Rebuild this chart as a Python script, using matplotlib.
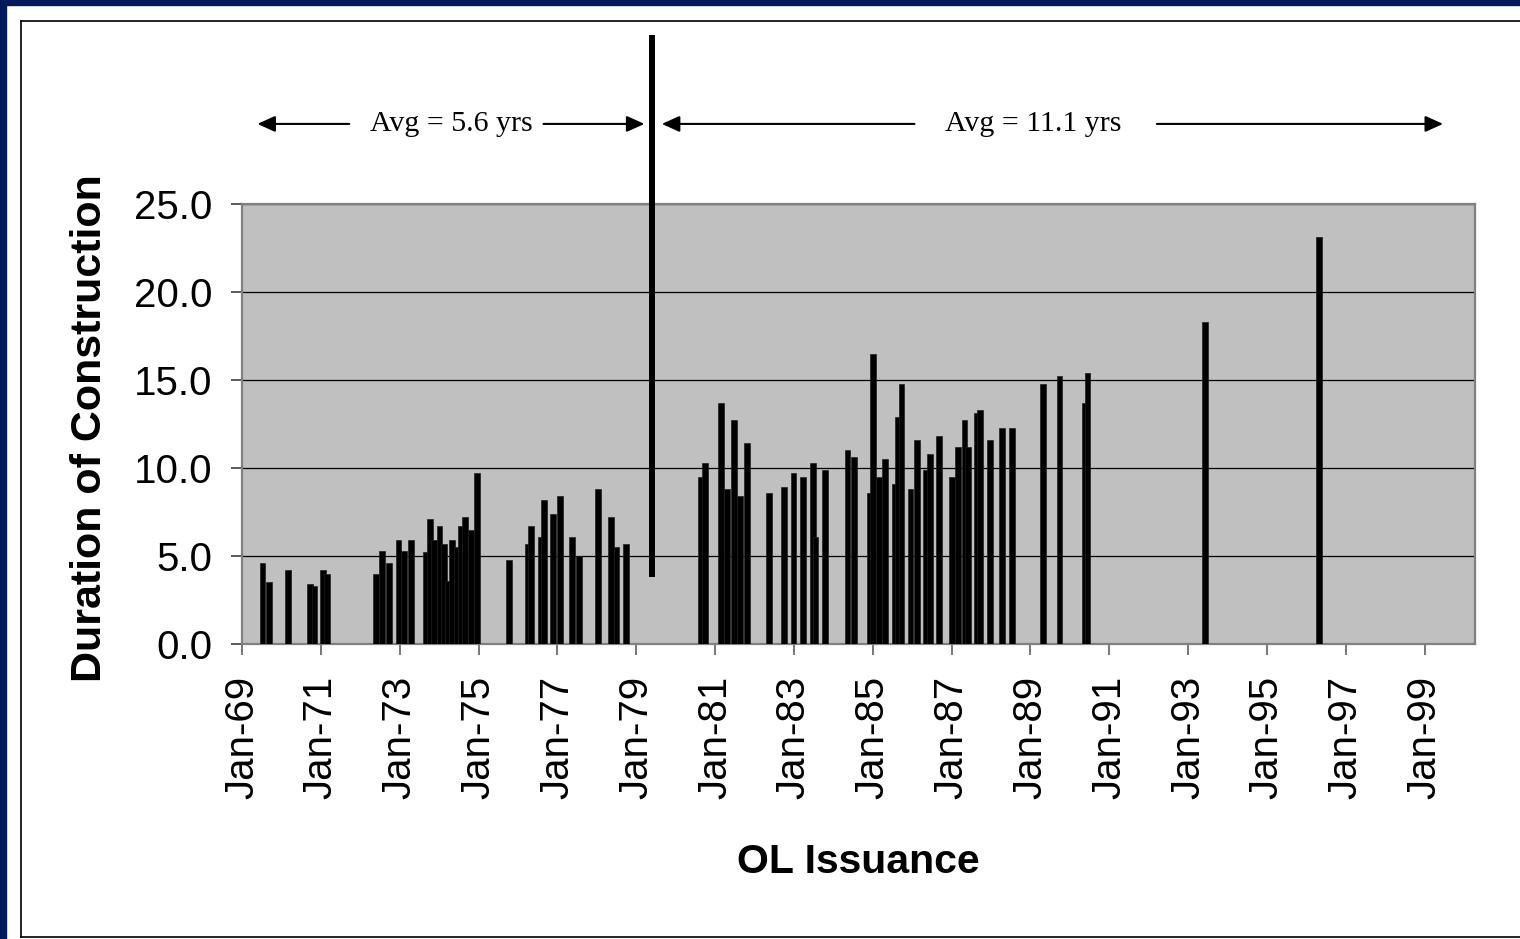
# duration of construction vs OL issuance date, bar chart with two averages
import matplotlib.pyplot as plt
from matplotlib.lines import Line2D
from matplotlib.patches import Rectangle

# issuance dates (decimal years) and construction duration (years)
issue_dates = [1969.52, 1969.68, 1970.17, 1970.73, 1970.84, 1971.05, 1971.15,
               1972.40, 1972.56, 1972.73, 1972.97, 1973.12, 1973.29,
               1973.67, 1973.77, 1973.88, 1974.01, 1974.13, 1974.22, 1974.33,
               1974.45, 1974.55, 1974.65, 1974.81, 1974.97,
               1975.78, 1976.26, 1976.34, 1976.58, 1976.66, 1976.90, 1977.06,
               1977.38, 1977.54, 1978.03, 1978.35, 1978.50, 1978.75,
               1980.64, 1980.75, 1981.15, 1981.31, 1981.47, 1981.63, 1981.80,
               1982.36, 1982.76, 1982.99, 1983.24, 1983.48, 1983.55, 1983.80,
               1984.36, 1984.52, 1984.92, 1985.00, 1985.16, 1985.31, 1985.56,
               1985.63, 1985.73, 1985.96, 1986.12, 1986.36, 1986.46, 1986.69,
               1987.01, 1987.16, 1987.33, 1987.41, 1987.64, 1987.73, 1987.97,
               1988.29, 1988.53,
               1989.33, 1989.74, 1990.38, 1990.45,
               1993.43, 1996.32]
durations = [4.6, 3.5, 4.2, 3.4, 3.3, 4.2, 4.0,
             4.0, 5.3, 4.6, 5.9, 5.3, 5.9,
             5.2, 7.1, 5.9, 6.7, 5.7, 3.6, 5.9, 5.5, 6.7, 7.2, 6.5, 9.7,
             4.8, 5.7, 6.7, 6.1, 8.2, 7.4, 8.4, 6.1, 5.0, 8.8, 7.2, 5.5, 5.7,
             9.5, 10.3, 13.7, 8.8, 12.7, 8.4, 11.4,
             8.6, 8.9, 9.7, 9.5, 10.3, 6.1, 9.9,
             11.0, 10.6, 8.6, 16.5, 9.5, 10.5, 9.1, 12.9, 14.8, 8.8, 11.6,
             9.9, 10.8, 11.8,
             9.5, 11.2, 12.7, 11.2, 13.1, 13.3, 11.6, 12.3, 12.3,
             14.8, 15.2, 13.7, 15.4,
             18.3, 23.1]

tick_years = list(range(1969, 2000, 2))
tick_labels = [f'Jan-{y % 100:02d}' for y in tick_years]
y_ticks = [0, 5, 10, 15, 20, 25]

split_date = 1979.41
avg_labels = ['Avg = 5.6 yrs', 'Avg = 11.1 yrs']

plt.rcParams['font.family'] = 'Liberation Sans'

W, H = 1520, 939
fig = plt.figure(figsize=(W / 100, H / 100), dpi=100)

def fx(px):
    return px / W

def fy(py):
    return 1 - py / H

# outer frame: navy strips and thin black box
navy = '#021a5c'
fig.patches.append(Rectangle((0, 0), 6 / W, 1, transform=fig.transFigure, color=navy))
fig.patches.append(Rectangle((0, fy(5)), 1, 5 / H, transform=fig.transFigure, color=navy))
for xs, ys in [([fx(21), fx(21)], [fy(21), fy(937)]),
               ([fx(21), 1.0], [fy(21), fy(21)]),
               ([fx(21), 1.0], [fy(937), fy(937)])]:
    fig.add_artist(Line2D(xs, ys, color='black', lw=1.2, transform=fig.transFigure))

ax = fig.add_axes([fx(242), fy(644), fx(1475) - fx(242), fy(204) - fy(644)])
ax.set_facecolor('#c0c0c0')

ax.bar(issue_dates, durations, width=0.15, color='black', edgecolor='#202020',
       linewidth=0.5, zorder=3)

ax.set_xlim(1969.0, 2000.28)
ax.set_ylim(0, 25)
ax.set_xticks(tick_years)
ax.set_xticklabels(tick_labels, rotation=90, fontsize=29)
ax.set_yticks(y_ticks)
ax.set_yticklabels([f'{v:.1f}' for v in y_ticks], fontsize=29)
ax.tick_params(axis='x', length=8, width=1.2, color='#606060', pad=15)
ax.tick_params(axis='y', length=8, width=1.2, color='#404040', pad=13)
ax.yaxis.grid(True, color='black', lw=0.9, zorder=1)
ax.set_axisbelow(True)
for s in ax.spines.values():
    s.set_color('#808080')
    s.set_linewidth(1.6)

ax.set_ylabel('Duration of Construction', fontsize=31, fontweight='bold', va='center')
ax.yaxis.set_label_coords(-0.123, 0.49)
ax.set_xlabel('OL Issuance', fontsize=29.5, fontweight='bold', va='center')
ax.xaxis.set_label_coords(0.5, -0.495)

# separator between the two periods
ax.plot([split_date, split_date], [3.8, 34.6], color='black', lw=4.3,
        solid_capstyle='butt', clip_on=False, zorder=5)

# average arrows and labels
arrow_y = 29.55
arrow_style = dict(arrowstyle='-|>,head_length=0.6,head_width=0.27', color='black',
                   lw=1.5, mutation_scale=18, shrinkA=0, shrinkB=0)
for tail, head in [(1971.72, 1969.39), (1976.65, 1979.21),
                   (1986.06, 1979.65), (1992.21, 1999.47)]:
    ax.annotate('', xy=(head, arrow_y), xytext=(tail, arrow_y),
                arrowprops=arrow_style, annotation_clip=False)
for xc, txt in zip([1974.3, 1989.08], avg_labels):
    ax.text(xc, arrow_y, txt, ha='center', va='center', fontsize=21.5,
            family='Liberation Serif', clip_on=False)

plt.savefig('out.png', dpi=100)
